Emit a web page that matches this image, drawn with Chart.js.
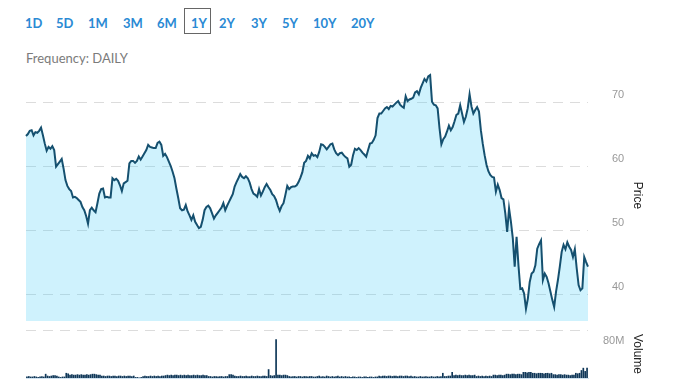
<!DOCTYPE html>
<html><head><meta charset="utf-8">
<script src="https://cdn.jsdelivr.net/npm/chart.js@4.4.1/dist/chart.umd.min.js"></script>
<style>
body{margin:0;background:#fff;width:678px;height:381px;overflow:hidden;position:relative;font-family:Lato,sans-serif}
.rng{position:absolute;top:15px;font-weight:bold;font-size:13px;font-family:Lato,sans-serif;color:#2a8ad4;line-height:16px;white-space:nowrap}
#box{position:absolute;left:184px;top:8px;width:25px;height:24px;border:1px solid #666}
#freq{position:absolute;left:26px;top:50px;font-size:13px;line-height:16px;font-family:Lato,sans-serif;color:#7b7b7b;white-space:nowrap}
canvas{position:absolute;left:0}
</style></head><body>
<div id="box"></div>
<div id="freq">Frequency: DAILY</div>
<canvas id="p" width="678" height="271" style="top:60px"></canvas>
<canvas id="v" width="678" height="66" style="top:322px"></canvas>
<script>
const ranges = ['1D','5D','1M','3M','6M','1Y','2Y','3Y','5Y','10Y','20Y'];
const rangeLeft = [25,56,88,123,157,191,219,251,282,313,351];
ranges.forEach((r,i)=>{const s=document.createElement('span');s.className='rng';s.textContent=r;s.style.left=rangeLeft[i]+'px';document.body.appendChild(s);});

const price = [
64.7,65.0,65.5,65.6,64.8,65.3,65.2,65.5,66.0,64.8,63.5,62.4,63.0,62.7,63.1,62.5,59.9,60.3,60.7,61.1,
59.6,57.8,56.9,56.4,56.1,55.1,55.2,55.0,54.7,54.4,53.6,53.1,52.2,51.0,53.1,53.5,53.1,52.8,54.2,55.7,
56.4,56.5,55.1,55.2,55.1,55.1,58.1,57.8,58.0,57.7,57.0,56.1,57.3,57.5,57.7,60.4,60.8,
60.8,60.5,60.8,61.5,61.0,61.5,62.0,62.5,63.3,63.0,62.9,62.8,62.8,63.6,63.8,63.3,61.6,61.9,61.4,60.7,
60.0,59.1,58.1,56.5,55.0,53.4,53.1,53.2,53.9,52.9,52.3,51.6,52.3,51.3,50.8,50.3,50.5,51.6,53.1,53.6,
53.8,53.4,52.6,51.8,52.3,52.7,53.1,53.5,54.2,53.1,53.8,54.4,55.0,55.6,56.8,57.5,58.1,58.75,
58.3,58.1,58.4,58.1,57.4,56.4,55.7,55.5,55.2,56.4,55.4,56.0,56.7,57.2,56.7,56.25,55.6,55.3,54.7,53.75,
53.0,53.75,54.2,55.5,56.9,56.4,56.7,56.8,56.8,57.0,57.5,58.2,59.0,60.5,60.8,61.6,61.2,62.0,61.6,61.7,
61.4,62.2,63.4,63.3,63.0,62.6,63.0,63.4,63.5,62.6,62.0,61.7,62.0,62.1,61.7,61.4,61.2,
59.9,60.2,61.7,62.7,62.5,62.8,62.5,62.1,61.8,61.45,62.5,63.5,63.6,64.1,64.8,67.5,68.2,68.2,68.6,69.0,
69.2,68.9,69.4,69.3,69.6,69.9,70.15,69.6,69.3,69.1,70.9,70.15,70.4,70.5,70.7,71.5,71.7,71.2,72.2,72.9,
73.6,73.2,74.0,74.2,70.05,69.6,69.5,69.0,65.9,63.4,64.2,64.6,65.4,66.3,65.6,66.1,67.0,68.0,68.2,69.5,68.2,
66.9,67.7,69.0,71.2,69.3,68.2,68.75,69.2,68.5,65.6,63.5,61.7,60.2,59.2,58.6,58.3,58.2,56.0,57.1,56.25,
55.0,54.8,52.6,49.7,53.4,51.3,48.7,44.3,48.95,44.5,40.8,40.9,40.1,37.7,39.3,41.9,43.2,43.5,44.5,47.1,
47.8,48.4,42.2,43.2,42.7,41.7,40.4,39.1,38.0,40.4,42.2,44.3,46.6,47.7,47.0,48.1,47.4,46.9,45.8,47.0,
44.0,41.4,40.6,40.9,45.8,45.0,44.3
];

// volume in millions
const volume = [
3,4,3,3,4,3,2,3,4,3, 9, 5,4,5, 6,6,5, 3,2,3,3, 11,10,
7,8,7,7,8,7,8,7,7,8,7,8,9,9,8,7,7,
5,5,4,5,5,4,5,5,4,5,5,4,5,4,5,5,4,5,
2,2,1,2,
4,5,4,4,5,4,5,4,5,4,5,5,
6,7,6,7,6,7,7,6,7,6,7,6,7,6,6,7,6,7,6,6,7,6,6,
4,4,3,4,4,3,4,4,3,4,4,
8,8,7,
5,4,4,5,4,4,5,4,4,5,4,4,5,4,4,5,5,4,
19, 6,5,6, 84,
7,7,6,7,7,6,
4,3,4,4,3,4,4,3,4,4,3,4,4,3,
3,4,5,3,4,3,5,4,3,4,3,4,5,3,4,3,4,3,
3,2,3,3,2,3,3,2,3,3,2,3,3,2,3,3,
5,4,5,5,4,5,5,4,5,5,4,5,5,4,5,5,4,5,
3,4,3,3,4,3,3,4,3,3,4,3,3,4,3,4,
11, 4,4,5, 5, 13,
6,7,6,7,6,6,7,6,7,6,6,7,
4,5,4,5,4,5,4,5,4,
7,7,6,7,7,6,7,
9,9,8,9,9,8,9,9,8,
13,13,12,13,13,
11,11,10,11,11,
11,10,11,11,10,11,
8,8,7,8,8,7,8,
7,7,6,7,7,
11,10,11,
17,22,15,22
];

const priceTicks = [40,50,60,70];
const volumeTicks = [80];
const volumeTickLabels = ['80M'];
const labels = price.map((_,i)=>i);

const tickFont = {family:'Liberation Sans', size:11};
const titleFont = {family:'Liberation Sans', size:12};

new Chart(document.getElementById('p'), {
  type:'line',
  data:{labels, datasets:[{data:price, borderColor:'#15506f', borderWidth:2, pointRadius:0,
    fill:'start', backgroundColor:'rgba(63,203,247,0.25)', tension:0}]},
  options:{responsive:false, animation:false, events:[],
    layout:{padding:{left:26,top:10,bottom:10,right:0}},
    plugins:{legend:{display:false}, tooltip:{enabled:false}},
    scales:{
      x:{display:false, offset:false},
      y:{position:'right', min:35.8, max:75,
        afterBuildTicks:s=>{s.ticks=priceTicks.map(v=>({value:v}));},
        afterFit:s=>{s.width=90;},
        grid:{color:'#dcdcdc', drawTicks:true, tickLength:24, tickColor:'rgba(0,0,0,0)'},
        border:{display:false, dash:[10,7]},
        ticks:{padding:0, labelOffset:-7, color:'#999', font:tickFont},
        title:{display:true, text:'Price', color:'#222', font:titleFont, padding:{top:33,bottom:0}}
      }
    }
  }
});

const volMax = 80*48/37;
new Chart(document.getElementById('v'), {
  type:'bar',
  data:{labels, datasets:[{data:volume, backgroundColor:'#0f3758', barPercentage:0.9, categoryPercentage:1}]},
  options:{responsive:false, animation:false, events:[],
    layout:{padding:{left:26,top:8,bottom:10,right:0}},
    plugins:{legend:{display:false}, tooltip:{enabled:false}},
    scales:{
      x:{display:true, grid:{display:false, drawTicks:false}, ticks:{display:false}, border:{display:true, color:'#cfe2f0'}},
      y:{position:'right', min:0, max:volMax,
        afterBuildTicks:s=>{s.ticks=volumeTicks.map(v=>({value:v})).concat([{value:volMax}]);},
        afterFit:s=>{s.width=90;},
        grid:{color:c=>(c.tick && c.tick.value===volMax)?'#dcdcdc':'rgba(0,0,0,0)', drawTicks:true, tickLength:15, tickColor:'rgba(0,0,0,0)'},
        border:{display:false, dash:[10,7]},
        ticks:{padding:0, color:'#999', font:tickFont,
          callback:v=>{const k=volumeTicks.indexOf(v);return k>=0?volumeTickLabels[k]:'';}},
        title:{display:true, text:'Volume', color:'#222', font:titleFont, padding:{top:33,bottom:0}}
      }
    }
  }
});
</script>
</body></html>
